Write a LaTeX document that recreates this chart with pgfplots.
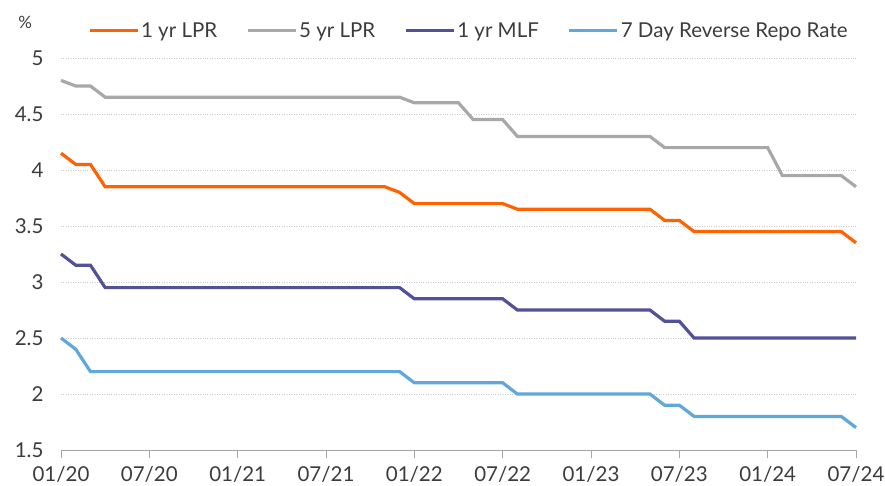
\documentclass[border=0pt]{standalone}
\usepackage{fontspec}
\setmainfont{Lato}
\usepackage{pgfplots}
\pgfplotsset{compat=1.18}
\definecolor{ingorange}{HTML}{FF6200}
\definecolor{inggrey}{HTML}{A8A8A8}
\definecolor{ingpurple}{HTML}{525199}
\definecolor{ingblue}{HTML}{60A8DC}
\definecolor{txt}{HTML}{3C3C3C}
\begin{document}
\begin{tikzpicture}[x=1pt,y=1pt]
\begin{axis}[
  at={(0pt,0pt)}, anchor=south west,
  scale only axis, width=795pt, height=392pt,
  xmin=0, xmax=54, ymin=1.5, ymax=5,
  axis lines*=left,
  x axis line style={draw=gray!70, line width=0.8pt},
  y axis line style={draw=none},
  xtick={0,6,...,54},
  xticklabels={01/20,07/20,01/21,07/21,01/22,07/22,01/23,07/23,01/24,07/24},
  x tick style={draw=gray!70, line width=0.8pt},
  y tick style={draw=none},
  tick align=outside, major tick length=8pt,
  ytick={1.5,2,...,5},
  yticklabels={1.5,2,2.5,3,3.5,4,4.5,5},
  ymajorgrids, grid style={gray!40, dotted, line width=0.6pt},
  every tick label/.append style={font=\fontsize{20.5}{21}\selectfont, text=txt},
  yticklabel style={anchor=east, xshift=-6pt},
  xticklabel style={yshift=-4.5pt},
  /pgf/number format/assume math mode=true,
  legend columns=4,
  legend style={at={(axis description cs:0.513,1.07)}, anchor=center, draw=none, fill=none,
    font=\fontsize{20.5}{21}\selectfont, text=txt, /tikz/every even column/.append style={column sep=27pt}},
  legend image code/.code={\draw[#1, line width=3pt] (0pt,0pt) -- (48pt,0pt);},
  clip=false,
]
\addplot[ingorange, line width=3.2pt] coordinates {(0,4.15)(1,4.05)(2,4.05)(3,3.85)(22,3.85)(23,3.80)(24,3.70)(30,3.70)(31,3.65)(40,3.65)(41,3.55)(42,3.55)(43,3.45)(53,3.45)(54,3.35)};
\addlegendentry{1 yr LPR}
\addplot[inggrey, line width=3.2pt] coordinates {(0,4.80)(1,4.75)(2,4.75)(3,4.65)(23,4.65)(24,4.60)(27,4.60)(28,4.45)(30,4.45)(31,4.30)(40,4.30)(41,4.20)(48,4.20)(49,3.95)(53,3.95)(54,3.85)};
\addlegendentry{5 yr LPR}
\addplot[ingpurple, line width=3.2pt] coordinates {(0,3.25)(1,3.15)(2,3.15)(3,2.95)(23,2.95)(24,2.85)(30,2.85)(31,2.75)(40,2.75)(41,2.65)(42,2.65)(43,2.50)(54,2.50)};
\addlegendentry{1 yr MLF}
\addplot[ingblue, line width=3.2pt] coordinates {(0,2.50)(1,2.40)(2,2.20)(23,2.20)(24,2.10)(30,2.10)(31,2.00)(40,2.00)(41,1.90)(42,1.90)(43,1.80)(53,1.80)(54,1.70)};
\addlegendentry{7 Day Reverse Repo Rate}
\node[font=\fontsize{17}{18}\selectfont, text=txt] at (axis description cs:-0.045,1.092) {\%};
\end{axis}
\pgfresetboundingbox
\path[use as bounding box] (-61pt,-35pt) rectangle (824pt,450pt);
\end{tikzpicture}
\end{document}
